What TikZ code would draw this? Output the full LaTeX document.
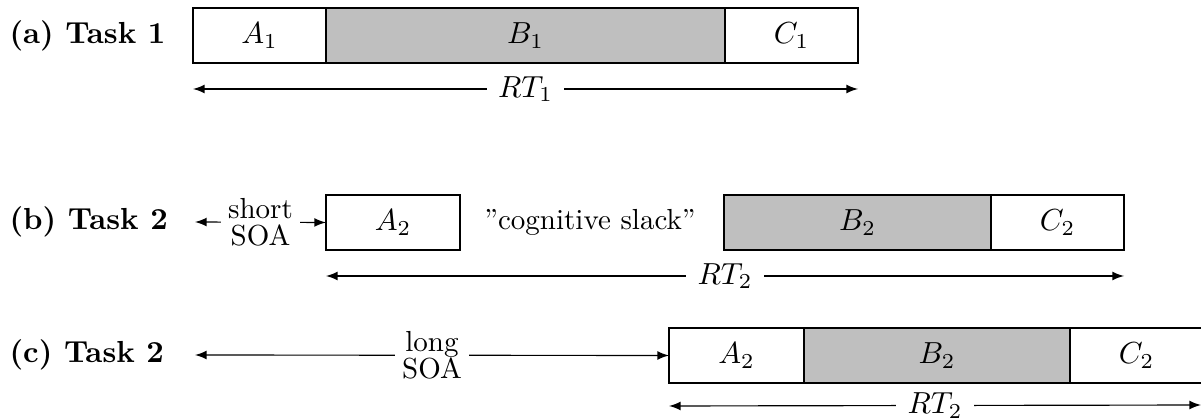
\RequirePackage{fix-cm}
\documentclass[tikz,border=0pt]{standalone}
\usetikzlibrary{arrows}
\def\pxu{0.3448pt}
\newcommand\bigfnt{\fontsize{10.5pt}{12.6pt}\selectfont}
\begin{document}
\begin{tikzpicture}[x=0.3448pt, y=-0.3448pt, >=latex,
  box/.style={draw, line width=0.4pt, anchor=north west, inner sep=0pt, outer sep=0pt, minimum height=55*\pxu, font=\bigfnt},
  slow/.style={box, fill=black!25},
  lbl/.style={fill=white, inner xsep=4pt, inner ysep=1pt, font=\bigfnt},
  soa/.style={fill=white, inner sep=2.5pt, align=center},
  task/.style={anchor=west, font=\bigfnt\bfseries, inner sep=0pt}]
\useasboundingbox (0,0) rectangle (1201,419);

% (a)
\node[task] (la) at (9,35.5) {(a) Task 1};
\node[box, minimum width=133*\pxu] (a1) at (193,8) {$A_1$};
\node[slow, minimum width=399*\pxu] (b1) at (a1.north east) {$B_1$};
\node[box, minimum width=133*\pxu] (c1) at (b1.north east) {$C_1$};
\path (a1.south west) ++(0,26) coordinate (rtaL);
\path (c1.south east) ++(0,26) coordinate (rtaR);
\draw[<->] (rtaL) -- node[lbl] (rt1) {$RT_1$} (rtaR);

% (b)
\node[task] (lb) at (9,222) {(b) Task 2};
\node[box, minimum width=134*\pxu] (a2b) at (326,195) {$A_2$};
\node (slack) at (590,222) {''cognitive slack''};
\node[slow, minimum width=267*\pxu] (b2b) at (724,195) {$B_2$};
\node[box, minimum width=133*\pxu] (c2b) at (b2b.north east) {$C_2$};
\coordinate (sb) at (195,222);
\draw[<->] (sb) -- node[soa] (ssoa) {short\\[-2.5pt]SOA} (a2b.west);
\path (a2b.south west) ++(0,26) coordinate (rtbL);
\path (c2b.south east) ++(0,26) coordinate (rtbR);
\draw[<->] (rtbL) -- node[lbl] (rt2b) {$RT_2$} (rtbR);

% (c)
\node[task] (lc) at (9,355) {(c) Task 2};
\node[box, minimum width=135*\pxu] (a2c) at (669,328) {$A_2$};
\node[slow, minimum width=266*\pxu] (b2c) at (a2c.north east) {$B_2$};
\node[box, minimum width=133*\pxu] (c2c) at (b2c.north east) {$C_2$};
\coordinate (sc) at (195,355);
\draw[<->] (sc) -- node[soa] (lsoa) {long\\[-2.5pt]SOA} (a2c.west);
\path (a2c.south west) ++(0,23) coordinate (rtcL);
\coordinate (rtcR) at (1201,405);
\draw[<->] (rtcL) -- node[lbl] (rt2c) {$RT_2$} (rtcR);
\end{tikzpicture}
\end{document}
